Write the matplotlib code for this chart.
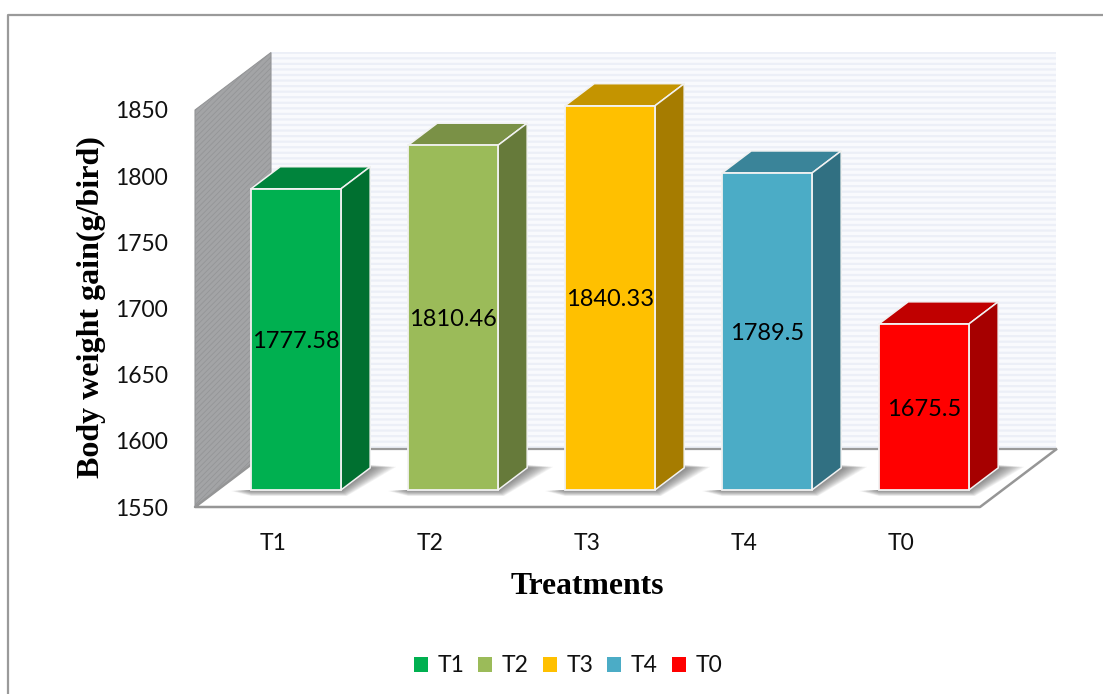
import matplotlib
matplotlib.use('Agg')
import matplotlib.pyplot as plt
from matplotlib.patches import Polygon, Patch
from matplotlib.lines import Line2D

W, H = 1103, 694

# Valeurs du graphique
treatments = ['T1', 'T2', 'T3', 'T4', 'T0']
gain = [1777.58, 1810.46, 1840.33, 1789.5, 1675.5]
labels = ['1777.58', '1810.46', '1840.33', '1789.5', '1675.5']
yticks = [1550, 1600, 1650, 1700, 1750, 1800, 1850]

front = ['#00B050', '#9BBB59', '#FFC000', '#4BACC6', '#FF0000']
side = ['#007030', '#667A3A', '#A67C00', '#317082', '#A60000']
top = ['#00843C', '#7A9146', '#C49400', '#3A8499', '#C00000']

# Profondeur de la boite 3D, en unites de donnees
PX = 1 / 157
PY = 1 / 1.3233
DX = 76 * PX
DY = 57.5 * PY
BAR_W = 0.573
D0, D1 = 0.296, 0.68
Y0, Y1 = 1550, 1850


def proj(x, y, d):
    # Decale un point du plan avant vers le fond de la boite
    return (x + d * DX, y + d * DY)


plt.rcParams['font.family'] = ['Lato', 'DejaVu Sans']
fig = plt.figure(figsize=(W / 100, H / 100), dpi=100)
ax = fig.add_axes([195 / W, 1 - 507 / H, 785 / W, 397 / H])
ax.set_xlim(-0.5, 4.5)
ax.set_ylim(Y0, Y1)
ax.patch.set_visible(False)
for s in ax.spines.values():
    s.set_visible(False)

# Cadre exterieur
fig.add_artist(Line2D([7.5 / W, 7.5 / W, 1], [0, 1 - 14.5 / H, 1 - 14.5 / H],
                      color='#9a9a9a', lw=1.6, transform=fig.transFigure))


def poly(pts, **kw):
    kw.setdefault('clip_on', False)
    p = Polygon(pts, closed=True, **kw)
    ax.add_patch(p)
    return p


# Mur du fond raye
plt.rcParams['hatch.linewidth'] = 1.6
poly([proj(-0.5, Y0, 1), proj(4.5, Y0, 1), proj(4.5, Y1, 1), proj(-0.5, Y1, 1)],
     facecolor='#F9FAFD', edgecolor='#ECEFF7', hatch='---', lw=0, zorder=1)

# Mur gauche gris
plt.rcParams['hatch.linewidth'] = 0.6
poly([proj(-0.5, Y0, 0), proj(-0.5, Y0, 1), proj(-0.5, Y1, 1), proj(-0.5, Y1, 0)],
     facecolor='#A3A4A6', edgecolor='#949597', hatch='//////', lw=0, zorder=1)

# Sol
poly([proj(-0.5, Y0, 0), proj(4.5, Y0, 0), proj(4.5, Y0, 1), proj(-0.5, Y0, 1)],
     facecolor='white', edgecolor='none', zorder=2)
ax.plot(*zip(proj(-0.5, Y0, 1), proj(4.5, Y0, 1)), color='#9a9a9a', lw=1.6, zorder=2.1, clip_on=False)
ax.plot(*zip(proj(4.5, Y0, 1), proj(4.5, Y0, 0), proj(-0.5, Y0, 0), proj(-0.5, Y0, 1)),
        color='#969696', lw=1.8, zorder=2.2, clip_on=False)
poly([proj(-0.5, Y0, 0), proj(-0.5, Y0, 1), proj(-0.5, Y1, 1), proj(-0.5, Y1, 0)],
     facecolor='none', edgecolor='#949597', lw=0.8, zorder=2.3)
# Triangle bas du mur gauche
poly([proj(-0.5, Y0, 0), proj(-0.5, Y0, 1), (-0.5 + DX, Y0 + DY + 1), proj(-0.5, Y0 + 1, 0)],
     facecolor='#A3A4A6', edgecolor='none', zorder=2.05)

for i, v in enumerate(gain):
    xl, xr = i - BAR_W / 2, i + BAR_W / 2

    # Ombre au sol, couches de plus en plus etroites
    n = 14
    for k in range(n):
        t = 1 - k / n
        poly([proj(xl - t * 20 * PX, Y0 - t * 1 * PY, D0),
              proj(xl, Y0 - t * 6 * PY, D0),
              proj(xr + t * 6 * PX, Y0 - t * 6 * PY, D0),
              proj(xr + t * 26 * PX, Y0 + t * 1 * PY, D1),
              proj(xr, Y0 + t * 3 * PY, D1),
              proj(xr, Y0, D1),
              proj(xl, Y0, D0)],
             facecolor='#505050', edgecolor='none', alpha=0.065, zorder=3)

    # Dessus
    poly([proj(xl, v, D0), proj(xr, v, D0), proj(xr, v, D1), proj(xl, v, D1)],
         facecolor=top[i], edgecolor='#F2F2F2', lw=1.1, zorder=4)
    # Cote
    poly([proj(xr, Y0, D0), proj(xr, Y0, D1), proj(xr, v, D1), proj(xr, v, D0)],
         facecolor=side[i], edgecolor='#F2F2F2', lw=1.1, zorder=4)

    # Face avant
    ax.bar(i + D0 * DX, v - Y0, width=BAR_W, bottom=Y0 + D0 * DY, color=front[i],
           edgecolor='#F2F2F2', linewidth=1.3, zorder=5, clip_on=False)

    ax.annotate(labels[i], (i + D0 * DX, (v + Y0) / 2 + D0 * DY), xytext=(0, -1.5),
                textcoords='offset points', ha='center', va='center',
                fontsize=17, color='black', zorder=6, annotation_clip=False)

ax.set_xticks(range(len(treatments)))
ax.set_xticklabels(treatments)
ax.set_yticks(yticks)
ax.tick_params(axis='both', length=0, labelsize=16.5, colors='#111111')
ax.tick_params(axis='x', pad=18.5)
ax.tick_params(axis='y', pad=19.5)

# Titres des axes
fig.text(91 / W, 1 - 307 / H, 'Body weight gain(g/bird)', rotation=90, ha='center', va='center',
         family='Liberation Serif', fontweight='bold', fontsize=23)
fig.text(587 / W, 1 - 586 / H, 'Treatments', ha='center', va='center',
         family='Liberation Serif', fontweight='bold', fontsize=22.8)

# Legende
handles = [Patch(facecolor=c, edgecolor='none') for c in front]
fig.legend(handles, treatments, loc='center', bbox_to_anchor=(568 / W, 1 - 666 / H), ncols=5,
           frameon=False, fontsize=16.5, handlelength=0.62, handleheight=0.62,
           handletextpad=0.42, columnspacing=0.6, labelcolor='#111111')

plt.savefig('out.png', dpi=100)
